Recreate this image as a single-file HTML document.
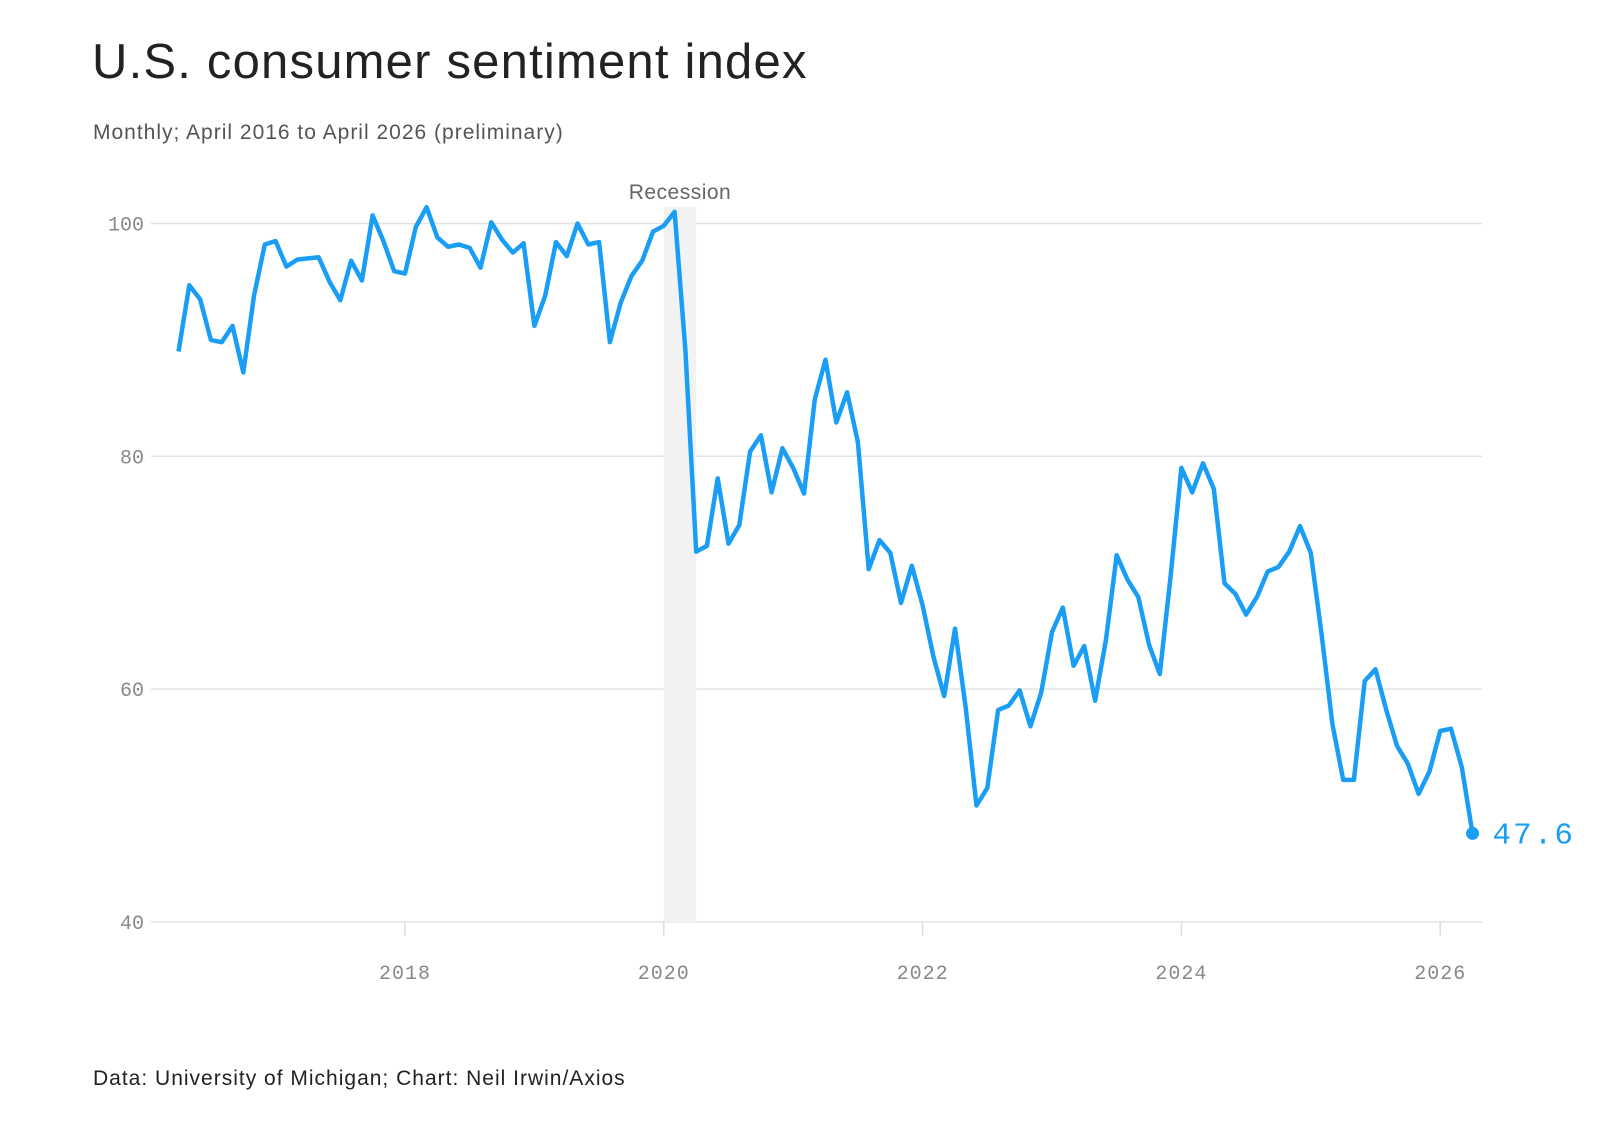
<!DOCTYPE html>
<html><head><meta charset="utf-8"><style>
body{margin:0;background:#fff;width:1600px;height:1123px;overflow:hidden;font-family:"Liberation Sans",sans-serif}
</style></head><body>
<svg width="1600" height="1123" viewBox="0 0 1600 1123">
<text x="92" y="78" font-size="49" fill="#222" letter-spacing="1.2" font-family="Liberation Sans, sans-serif">U.S. consumer sentiment index</text>
<text x="93" y="139" font-size="21" fill="#555" letter-spacing="1">Monthly; April 2016 to April 2026 (preliminary)</text>
<g id="grid"></g><g id="band"></g><g id="lines"></g>
<text x="93" y="1085" font-size="21" fill="#222" letter-spacing="1">Data: University of Michigan; Chart: Neil Irwin/Axios</text>
</svg>
<script>
const yTicks=[40,60,80,100];
const xTickLabels=["2018","2020","2022","2024","2026"];
const startYear=2016, startMonth=3; // April 2016 (0-based month)
const values=[89.0,94.7,93.5,90.0,89.8,91.2,87.2,93.8,98.2,
98.5,96.3,96.9,97.0,97.1,95.0,93.4,96.8,95.1,100.7,98.5,95.9,
95.7,99.7,101.4,98.8,98.0,98.2,97.9,96.2,100.1,98.6,97.5,98.3,
91.2,93.8,98.4,97.2,100.0,98.2,98.4,89.8,93.2,95.5,96.8,99.3,
99.8,101.0,89.1,71.8,72.3,78.1,72.5,74.1,80.4,81.8,76.9,80.7,
79.0,76.8,84.9,88.3,82.9,85.5,81.2,70.3,72.8,71.7,67.4,70.6,
67.2,62.8,59.4,65.2,58.4,50.0,51.5,58.2,58.6,59.9,56.8,59.7,
64.9,67.0,62.0,63.7,59.0,64.2,71.5,69.4,67.9,63.8,61.3,69.7,
79.0,76.9,79.4,77.2,69.1,68.2,66.4,67.9,70.1,70.5,71.8,74.0,
71.7,64.7,57.0,52.2,52.2,60.7,61.7,58.2,55.1,53.6,51.0,52.9,
56.4,56.6,53.3,47.6];
const recession=[2020.0,2020.25];
const NS="http://www.w3.org/2000/svg";
const x=t=>405+(t-2018)*129.4;
const y=v=>223.5+(100-v)*11.64;
function mk(tag,attrs,parent,txt){const e=document.createElementNS(NS,tag);for(const k in attrs)e.setAttribute(k,attrs[k]);if(txt!==undefined)e.textContent=txt;parent.appendChild(e);return e;}
const grid=document.getElementById('grid'),band=document.getElementById('band'),lines=document.getElementById('lines');
yTicks.forEach(v=>{
 const l=mk('line',{x1:151,x2:1482,y1:y(v),y2:y(v),stroke:'#e2e2e2','stroke-width':1.5},grid);
 
 
 const t=mk('text',{x:144,y:y(v)+7,'text-anchor':'end','font-size':20,fill:'#888','font-family':'Liberation Mono, monospace'},grid,String(v));
 
 
});
xTickLabels.forEach(s=>{
 const xv=x(+s);
 const l=mk('line',{x1:xv,x2:xv,y1:y(40),y2:y(40)+14,stroke:'#ddd','stroke-width':1.5},grid);
 
 
 const t=mk('text',{x:xv,y:979,'text-anchor':'middle','font-size':20,fill:'#888','font-family':'Liberation Mono, monospace','letter-spacing':'1'},grid,s);
 
 
});
const r=mk('rect',{x:x(recession[0]),y:207,width:x(recession[1])-x(recession[0]),height:y(40)-207,fill:'#f2f2f2'},band);


const rl=mk('text',{x:(x(recession[0])+x(recession[1]))/2,y:199,'text-anchor':'middle','font-size':21,fill:'#666','letter-spacing':'0.5'},band,'Recession');


const tt=i=>startYear+(startMonth+i)/12;
const d=values.map((v,i)=>(i?'L':'M')+x(tt(i)).toFixed(1)+','+y(v).toFixed(1)).join('');
const p=mk('path',{d:d,fill:'none',stroke:'#1a9ef5','stroke-width':4.5,'stroke-linejoin':'round'},lines);


const li=values.length-1;
const c=mk('circle',{cx:x(tt(li)),cy:y(values[li]),r:6.5,fill:'#1a9ef5'},lines);


const lt=mk('text',{x:x(tt(li))+20,y:y(values[li])+10,'font-size':31,fill:'#1a9ef5','font-family':'Liberation Mono, monospace','letter-spacing':'2'},lines,values[li].toFixed(1));


</script>
</body></html>
